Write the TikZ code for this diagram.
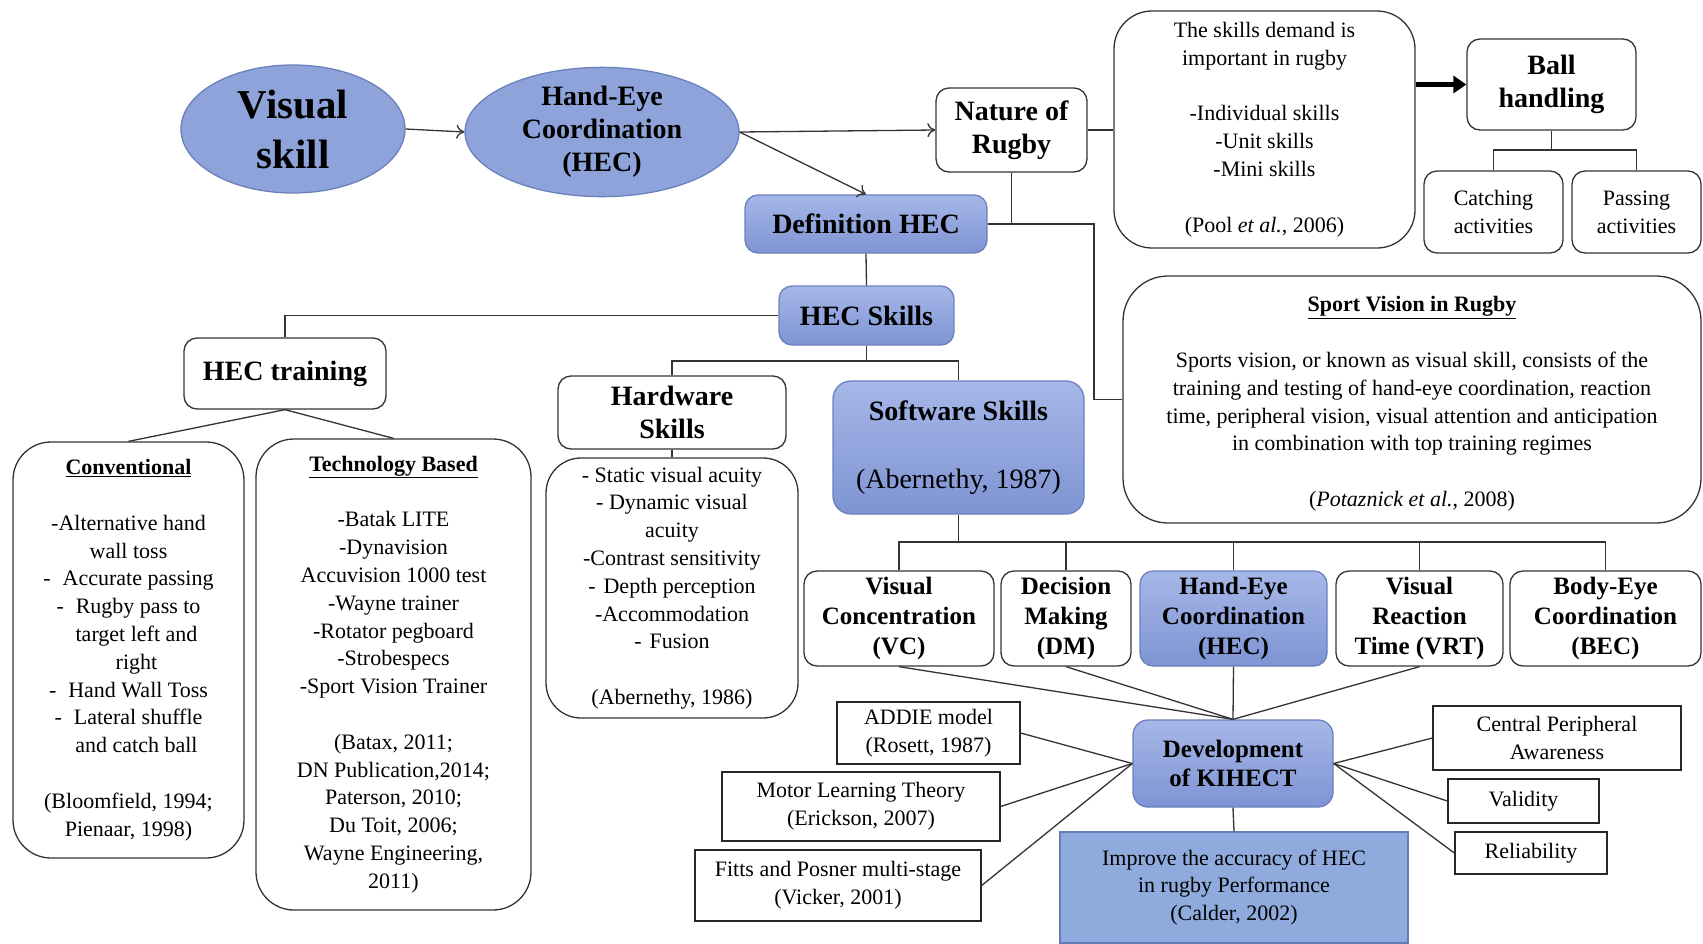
\documentclass[tikz,border=0pt]{standalone}
\usepackage{fontspec}
\setmainfont{Liberation Serif}
\usetikzlibrary{arrows.meta,shapes.geometric,calc}
\definecolor{bluefill}{RGB}{143,163,219}
\definecolor{bluetop}{RGB}{166,183,232}
\definecolor{bluebot}{RGB}{126,148,211}
\definecolor{blueline}{RGB}{108,128,188}
\definecolor{impfill}{RGB}{143,170,220}
\definecolor{impline}{RGB}{100,125,180}
\tikzset{
  body/.style={font=\fontsize{22}{27.8}\selectfont},
  hdr/.style={font=\fontsize{28}{33}\selectfont\bfseries},
  sub/.style={font=\fontsize{25}{29.9}\selectfont\bfseries},
  wbox/.style={draw=black!80, line width=1.3pt, rounded corners=13pt, fill=white, align=center, inner sep=0pt},
  bigbox/.style={wbox, rounded corners=38pt},
  bbox/.style={draw=blueline, line width=1.3pt, rounded corners=13pt, top color=bluetop, bottom color=bluebot, align=center, inner sep=0pt},
  sbox/.style={draw=black!85, line width=1.3pt, fill=white, align=center, inner sep=0pt},
  ell/.style={ellipse, draw=blueline, line width=1.3pt, fill=bluefill, align=center, inner sep=0pt},
  conn/.style={draw=black!80, line width=1.3pt},
  arr/.style={conn, -{To[length=8pt,width=14pt]}},
  fatarr/.style={draw=black, line width=4.5pt, -{Triangle[length=13pt,width=17pt]}},
}
\begin{document}
\begin{tikzpicture}[x=1pt,y=-1pt]
\useasboundingbox (0,0) rectangle (1703,943);
\fill[white] (0,0) rectangle (1703,943);

% top row
\node[ell, minimum width=224, minimum height=128, font=\fontsize{41}{50}\selectfont\bfseries] (vis) at (293,129) {Visual\\skill};
\node[ell, minimum width=274, minimum height=106, hdr] (hecE) at (602,132) {Hand-Eye\\Coordination\\(HEC)};
\node[wbox, minimum width=151, minimum height=84, hdr] (nature) at (1011.5,130) {Nature of\\Rugby};
\node[bigbox, minimum width=301, minimum height=237, body] (demand) at (1264.5,129.5)
  {The skills demand is\\important in rugby\\[27.8pt]-Individual skills\\-Unit skills\\-Mini skills\\[27.8pt](Pool \textit{et al.}, 2006)};
\node[wbox, minimum width=169, minimum height=91, hdr] (ball) at (1551.5,84.5) {Ball\\handling};
\node[wbox, minimum width=139, minimum height=82, body] (catch) at (1493.5,212) {Catching\\activities};
\node[wbox, minimum width=129, minimum height=82, body] (pass) at (1636.5,212) {Passing\\activities};

\node[bbox, minimum width=242, minimum height=58, hdr] (defn) at (866,224) {Definition HEC};
\node[bbox, minimum width=175, minimum height=59, hdr] (hecskills) at (866.5,315.5) {HEC Skills};

\node[bigbox, rounded corners=45pt, minimum width=578, minimum height=247, body] (sport) at (1412,399.5)
  {\rule{0pt}{24pt}\textbf{\underline{Sport Vision in Rugby}}\\[27.8pt]Sports vision, or known as visual skill, consists of the\\training and testing of hand-eye coordination, reaction\\time, peripheral vision, visual attention and anticipation\\in combination with top training regimes\\[27.8pt](\textit{Potaznick et al.}, 2008)};

% left side
\node[wbox, minimum width=202, minimum height=71, hdr] (training) at (285,373.5) {HEC training};
\node[bigbox, minimum width=231, minimum height=416, body] (conv) at (128.5,650)
  {\textbf{\underline{Conventional}}\\[27.8pt]-Alternative hand\\wall toss\\-\hspace{12pt}Accurate passing\\-\hspace{12pt}Rugby pass to\\\hspace{16pt}target left and\\\hspace{16pt}right\\-\hspace{12pt}Hand Wall Toss\\-\hspace{12pt}Lateral shuffle\\\hspace{16pt}and catch ball\\[27.8pt](Bloomfield, 1994;\\Pienaar, 1998)};
\node[bigbox, minimum width=275, minimum height=471, body] (tech) at (393.5,674.5)
  {\textbf{\underline{Technology Based}}\\[27.8pt]-Batak LITE\\-Dynavision\\Accuvision 1000 test\\-Wayne trainer\\-Rotator pegboard\\-Strobespecs\\-Sport Vision Trainer\\[27.8pt](Batax, 2011;\\DN Publication,2014;\\Paterson, 2010;\\Du Toit, 2006;\\Wayne Engineering,\\2011)};

% hardware / software
\node[wbox, minimum width=228, minimum height=73, hdr] (hard) at (672,412.5) {Hardware\\Skills};
\node[bigbox, rounded corners=35pt, minimum width=252, minimum height=260, body] (hardlist) at (672,588)
  {- Static visual acuity\\- Dynamic visual\\acuity\\-Contrast sensitivity\\-\hspace{8pt}Depth perception\\-Accommodation\\-\hspace{8pt}Fusion\\[27.8pt](Abernethy, 1986)};
\node[bbox, rounded corners=18pt, minimum width=251, minimum height=133, font=\fontsize{28}{34}\selectfont] (soft) at (958.5,447.5)
  {\textbf{Software Skills}\\[34pt](Abernethy, 1987)};

% five skills
\node[wbox, minimum width=190, minimum height=95, sub] (vc) at (899,618.5) {Visual\\Concentration\\(VC)};
\node[wbox, minimum width=130, minimum height=95, sub] (dm) at (1066,618.5) {Decision\\Making\\(DM)};
\node[bbox, minimum width=187, minimum height=95, sub] (hecb) at (1233.5,618.5) {Hand-Eye\\Coordination\\(HEC)};
\node[wbox, minimum width=167, minimum height=95, sub] (vrt) at (1419.5,618.5) {Visual\\Reaction\\Time (VRT)};
\node[wbox, minimum width=191, minimum height=95, sub] (bec) at (1605.5,618.5) {Body-Eye\\Coordination\\(BEC)};

% development
\node[bbox, rounded corners=15pt, minimum width=200, minimum height=87, font=\fontsize{25}{29}\selectfont\bfseries] (kihect) at (1233,763.5) {Development\\of KIHECT};
\node[sbox, minimum width=183, minimum height=62, body] (addie) at (928.5,733) {ADDIE model\\(Rosett, 1987)};
\node[sbox, minimum width=278, minimum height=69, body] (motor) at (861,806.5) {Motor Learning Theory\\(Erickson, 2007)};
\node[sbox, minimum width=286, minimum height=71, body] (fitts) at (838,885.5) {Fitts and Posner multi-stage\\(Vicker, 2001)};
\node[sbox, minimum width=248, minimum height=64, body] (cpa) at (1557,738) {Central Peripheral\\Awareness};
\node[sbox, minimum width=151, minimum height=44, body] (valid) at (1523.5,801) {Validity};
\node[sbox, minimum width=152, minimum height=42, body] (reliab) at (1531,853) {Reliability};
\node[draw=impline, line width=1.3pt, fill=impfill, align=center, inner sep=0pt, minimum width=348, minimum height=111, font=\fontsize{22}{27.5}\selectfont] (improve) at (1234,887.5)
  {Improve the accuracy of HEC\\in rugby Performance\\(Calder, 2002)};

% connectors
\draw[arr] (vis.east) -- (hecE.west);
\draw[arr] (hecE.east) -- (nature.west);
\draw[arr] (hecE.east) -- (defn.north);
\draw[conn] (nature.east) -- (demand.west |- nature.east);
\draw[fatarr] (demand.east |- ball.west) -- (ball.west);
\coordinate (bb) at (1551.5,150);
\draw[conn] (ball.south) -- (bb);
\draw[conn] (catch.north) |- (bb) -| (pass.north);

\coordinate (j1) at (1094,224);
\draw[conn] (defn.east) -- (j1) |- (sport.west);
\draw[conn] (nature.south) -- (nature.south |- defn.east);
\draw[conn] (defn.south) -- (hecskills.north);
\draw[conn] (hecskills.west) -| (training.north);
\coordinate (hs) at (866.5,361);
\draw[conn] (hecskills.south) -- (hs);
\draw[conn] (hard.north) |- (hs) -| (soft.north);
\draw[conn] (hard.south) -- (hardlist.north);
\draw[conn] (training.south) -- (conv.north);
\draw[conn] (training.south) -- (tech.north);

\coordinate (sb) at (958.5,542);
\draw[conn] (soft.south) -- (sb);
\draw[conn] (vc.north) |- (sb) -| (bec.north);
\draw[conn] (dm.north) -- (dm.north |- sb);
\draw[conn] (hecb.north) -- (hecb.north |- sb);
\draw[conn] (vrt.north) -- (vrt.north |- sb);

\draw[conn] (vc.south) -- (kihect.north);
\draw[conn] (dm.south) -- (kihect.north);
\draw[conn] (hecb.south) -- (kihect.north);
\draw[conn] (vrt.south) -- (kihect.north);
\draw[conn] (addie.east) -- (kihect.west);
\draw[conn] (motor.east) -- (kihect.west);
\draw[conn] (fitts.east) -- (kihect.west);
\draw[conn] (kihect.east) -- (cpa.west);
\draw[conn] (kihect.east) -- (valid.west);
\draw[conn] (kihect.east) -- (reliab.west);
\draw[conn] (kihect.south) -- (improve.north);
\end{tikzpicture}
\end{document}
